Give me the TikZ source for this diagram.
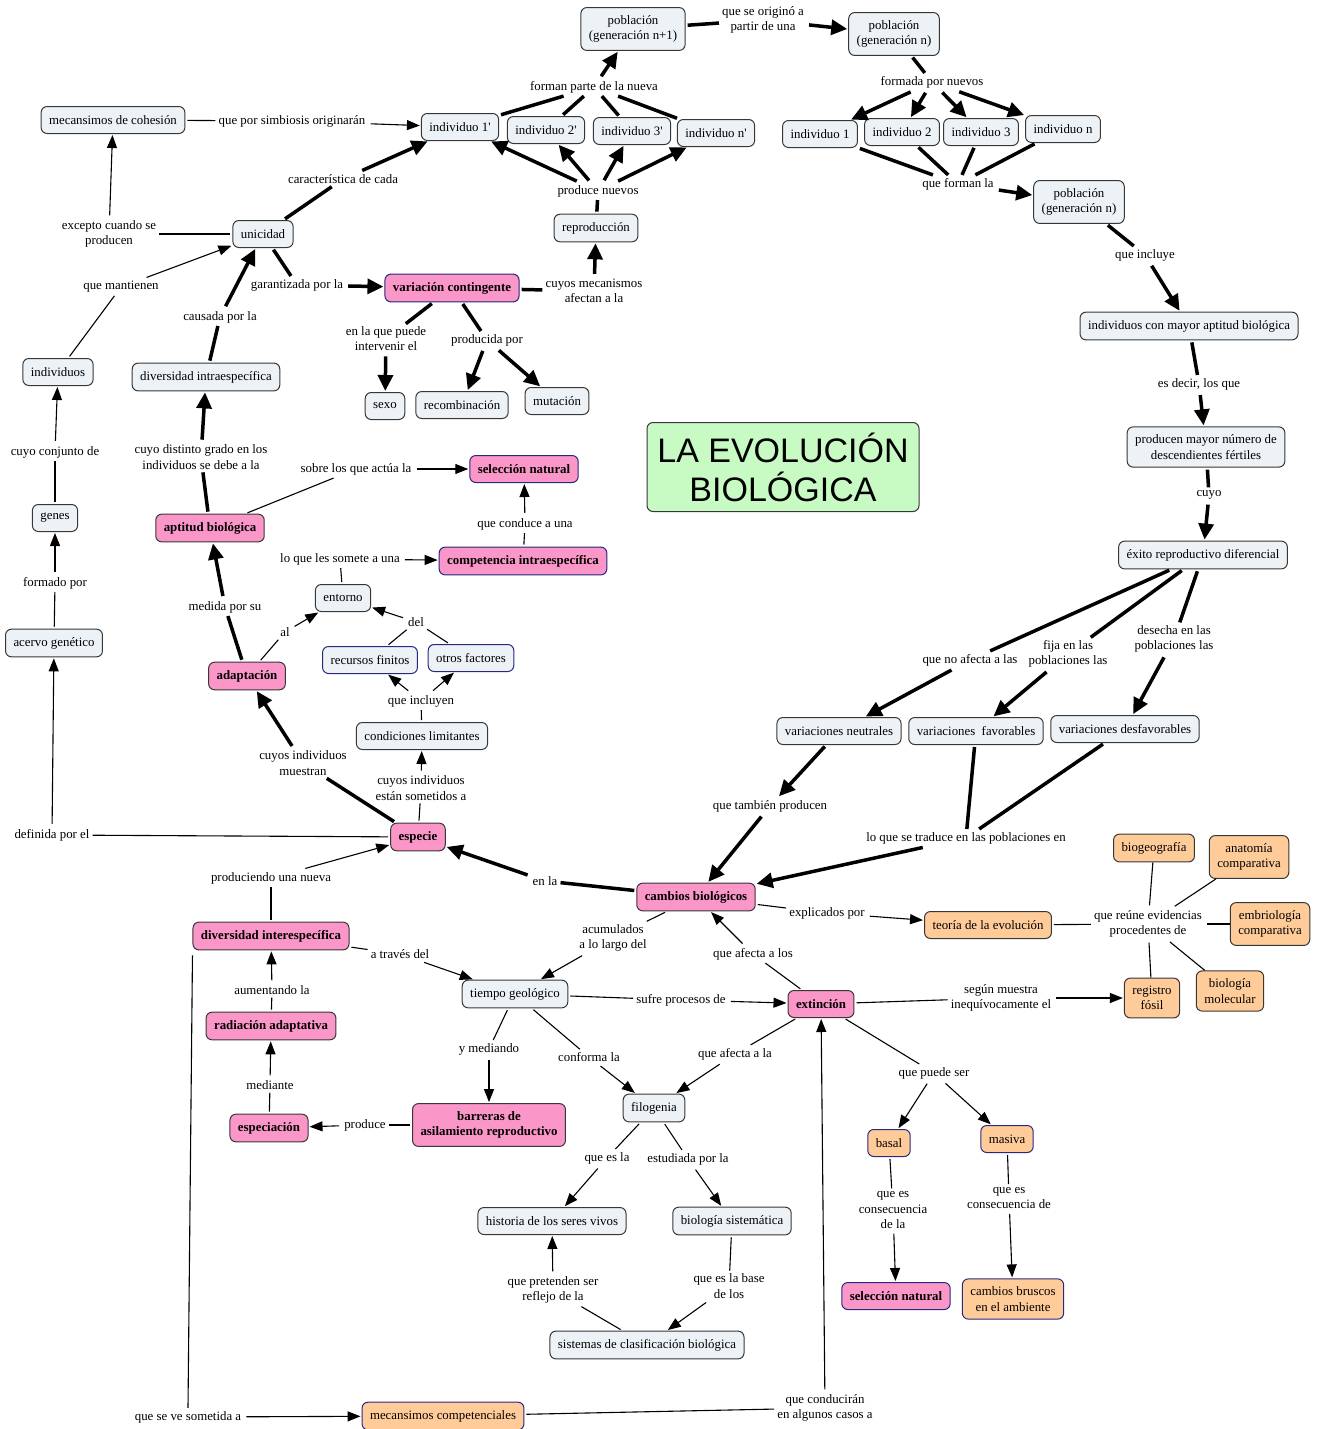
\documentclass[tikz,border=0pt]{standalone}
\usepackage{fontspec}
\setmainfont{Liberation Serif}
\newfontfamily\titlefont{Liberation Sans}
\usetikzlibrary{arrows.meta}
\definecolor{cfill}{RGB}{236,242,245}
\definecolor{cdraw}{RGB}{55,55,55}
\definecolor{pfill}{RGB}{250,150,200}
\definecolor{ofill}{RGB}{255,204,153}
\definecolor{gfill}{RGB}{200,250,195}
\definecolor{navyb}{RGB}{40,40,130}
\newcommand\cmfs{\fontsize{12.85}{15.2}\selectfont}
\newcommand\qs{\textquotesingle}
\tikzset{
 concept/.style={draw=cdraw, fill=cfill, rounded corners=6pt, line width=1pt, inner xsep=8pt, inner ysep=8pt, align=center, minimum height=27pt, font=\cmfs},
 pinkc/.style={concept, fill=pfill, font=\cmfs\bfseries},
 pinkn/.style={pinkc, draw=navyb},
 orangec/.style={concept, fill=ofill},
 orangen/.style={orangec, draw=navyb},
 bluec/.style={concept, draw=navyb},
 lp/.style={align=center, inner sep=3pt, font=\cmfs},
 thk/.style={line width=3.5pt, shorten <=2pt},
 thka/.style={thk, shorten >=1pt, -{Triangle[length=16pt,width=15pt]}},
 thn/.style={line width=1.1pt, shorten <=2pt},
 thna/.style={thn, shorten >=1pt, -{Triangle[length=13pt,width=10pt]}},
}
\begin{document}
\begin{tikzpicture}[x=1pt,y=-1pt]
\useasboundingbox (0,0) rectangle (1321,1429);
% ---------- concepts ----------
\node[concept] (pnA) at (633,29) {población\\(generación n+1)};
\node[concept] (pnB) at (894,34) {población\\(generación n)};
\node[concept] (ia) at (460,127) {individuo 1\qs};
\node[concept] (ib) at (546,130) {individuo 2\qs};
\node[concept] (ic) at (632,131) {individuo 3\qs};
\node[concept] (id) at (716,133) {individuo n\qs};
\node[concept] (ja) at (820,134) {individuo 1};
\node[concept] (jb) at (902,132) {individuo 2};
\node[concept] (jc) at (981,132) {individuo 3};
\node[concept] (jd) at (1063,129) {individuo n};
\node[concept] (pnC) at (1079,202) {población\\(generación n)};
\node[concept] (imay) at (1189,326) {individuos con mayor aptitud biológica};
\node[concept] (prod) at (1206,447) {producen mayor número de\\descendientes fértiles};
\node[concept] (exito) at (1203,555) {éxito reproductivo diferencial};
\node[concept] (vneu) at (839,731) {variaciones neutrales};
\node[concept] (vfav) at (976,731) {variaciones\ \ favorables};
\node[concept] (vdes) at (1125,729) {variaciones desfavorables};
\node[concept] (mcoh) at (113,120) {mecansimos de cohesión};
\node[concept] (unic) at (263,234) {unicidad};
\node[pinkn] (vcon) at (452,288) {variación contingente};
\node[concept] (repr) at (596,228) {reproducción};
\node[concept] (sexo) at (385,406) {sexo};
\node[concept] (recb) at (462,405) {recombinación};
\node[concept] (muta) at (557,401) {mutación};
\node[concept] (indv) at (58,372) {individuos};
\node[concept] (dintra) at (206,377) {diversidad intraespecífica};
\node[concept] (genes) at (55,518) {genes};
\node[pinkc] (apt) at (210,528) {aptitud biológica};
\node[pinkn] (snat) at (524,469) {selección natural};
\node[pinkn] (comp) at (523,561) {competencia intraespecífica};
\node[concept] (ent) at (343,598) {entorno};
\node[bluec] (recf) at (370,660) {recursos finitos};
\node[bluec] (otrf) at (471,658) {otros factores};
\node[concept] (cond) at (422,736) {condiciones limitantes};
\node[concept] (acerv) at (54,643) {acervo genético};
\node[pinkc] (adap) at (247,676) {adaptación};
\node[pinkc] (esp) at (418,837) {especie};
\node[pinkc] (camb) at (696,897) {cambios biológicos};
\node[orangec] (teor) at (988,925) {teoría de la evolución};
\node[orangec] (biog) at (1154,848) {biogeografía};
\node[orangec] (anat) at (1249,857) {anatomía\\comparativa};
\node[orangec] (embr) at (1270,924) {embriología\\comparativa};
\node[orangec] (biom) at (1230,991) {biología\\molecular};
\node[orangec] (regf) at (1152,998) {registro\\fósil};
\node[pinkc] (dinter) at (271,936) {diversidad interespecífica};
\node[pinkc] (radi) at (271,1026) {radiación adaptativa};
\node[pinkc] (espc) at (269,1128) {especiación};
\node[pinkc] (barr) at (489,1125) {barreras de\\asilamiento reproductivo};
\node[concept] (tiem) at (515,994) {tiempo geológico};
\node[pinkc] (ext) at (821,1004) {extinción};
\node[concept] (filo) at (654,1108) {filogenia};
\node[concept] (hist) at (552,1221) {historia de los seres vivos};
\node[concept] (bsis) at (732,1221) {biología sistemática};
\node[concept] (sist) at (647,1345) {sistemas de clasificación biológica};
\node[orangen] (basal) at (889,1143) {basal};
\node[orangen] (masi) at (1007,1139) {masiva};
\node[pinkn] (snatb) at (896,1296) {selección natural};
\node[orangen] (brus) at (1013,1299) {cambios bruscos\\en el ambiente};
\node[orangen] (mcomp) at (443,1416) {mecansimos competenciales};
\node[draw=cdraw, fill=gfill, rounded corners=6pt, line width=1pt, align=center,
      minimum width=272pt, minimum height=89pt, inner sep=4pt,
      font=\titlefont\fontsize{34}{39}\selectfont] (title) at (783,467) {LA EVOLUCIÓN\\BIOLÓGICA};
% ---------- linking phrases ----------
\node[lp] (lOrig) at (763,20) {que se originó a\\partir de una};
\node[lp] (lForman) at (594,87) {forman parte de la nueva};
\node[lp] (lFormada) at (932,82) {formada por nuevos};
\node[lp] (lSimb) at (292,121) {que por simbiosis originarán};
\node[lp] (lProdN) at (598,191) {produce nuevos};
\node[lp] (lFormanLa) at (958,184) {que forman la};
\node[lp] (lCarac) at (343,179) {característica de cada};
\node[lp] (lExcep) at (109,234) {excepto cuando se\\producen};
\node[lp] (lIncl) at (1145,255) {que incluye};
\node[lp] (lMant) at (121,287) {que mantienen};
\node[lp] (lGarant) at (297,285) {garantizada por la};
\node[lp] (lMecan) at (594,291) {cuyos mecanismos\\afectan a la};
\node[lp] (lCaus) at (220,317) {causada por la};
\node[lp] (lInterv) at (386,339) {en la que puede\\intervenir el};
\node[lp] (lProdPor) at (487,340) {producida por};
\node[lp] (lDecir) at (1199,384) {es decir, los que};
\node[lp] (lConj) at (55,452) {cuyo conjunto de};
\node[lp] (lGrado) at (201,457) {cuyo distinto grado en los\\individuos se debe a la};
\node[lp] (lSobre) at (356,469) {sobre los que actúa la};
\node[lp] (lCuyo) at (1209,495) {cuyo};
\node[lp] (lConduce) at (525,524) {que conduce a una};
\node[lp] (lSomete) at (340,559) {lo que les somete a una};
\node[lp] (lFormado) at (55,583) {formado por};
\node[lp] (lMedida) at (225,607) {medida por su};
\node[lp] (lAl) at (285,632) {al};
\node[lp] (lDel) at (416,622) {del};
\node[lp] (lNoAf) at (970,660) {que no afecta a las};
\node[lp] (lFija) at (1068,654) {fija en las\\poblaciones las};
\node[lp] (lDesecha) at (1174,639) {desecha en las\\poblaciones las};
\node[lp] (lIncluyen) at (421,701) {que incluyen};
\node[lp] (lMuestran) at (303,763) {cuyos individuos\\muestran};
\node[lp] (lSometidos) at (421,788) {cuyos individuos\\están sometidos a};
\node[lp] (lTambien) at (770,806) {que también producen};
\node[lp] (lDefinida) at (52,835) {definida por el};
\node[lp] (lTraduce) at (966,838) {lo que se traduce en las poblaciones en};
\node[lp] (lProduciendo) at (271,878) {produciendo una nueva};
\node[lp] (lEnLa) at (545,881) {en la};
\node[lp] (lExplic) at (827,913) {explicados por};
\node[lp] (lReune) at (1148,924) {que reúne evidencias\\procedentes de};
\node[lp] (lAcum) at (613,938) {acumulados\\a lo largo del};
\node[lp] (lAfectaLos) at (753,954) {que afecta a los};
\node[lp] (lTraves) at (400,954) {a través del};
\node[lp] (lAument) at (272,990) {aumentando la};
\node[lp] (lSufre) at (681,1000) {sufre procesos de};
\node[lp] (lSegun) at (1001,998) {según muestra\\inequívocamente el};
\node[lp] (lYMed) at (489,1049) {y mediando};
\node[lp] (lConforma) at (589,1057) {conforma la};
\node[lp] (lAfectaLa) at (735,1054) {que afecta a la};
\node[lp] (lPuede) at (934,1073) {que puede ser};
\node[lp] (lMediante) at (270,1085) {mediante};
\node[lp] (lProduce) at (365,1125) {produce};
\node[lp] (lEsLa) at (607,1158) {que es la};
\node[lp] (lEstud) at (688,1159) {estudiada por la};
\node[lp] (lConsLa) at (893,1210) {que es\\consecuencia\\de la};
\node[lp] (lConsDe) at (1009,1198) {que es\\consecuencia de};
\node[lp] (lBase) at (729,1286) {que es la base\\de los};
\node[lp] (lRefl) at (553,1290) {que pretenden ser\\reflejo de la};
\node[lp] (lConduciran) at (825,1408) {que conducirán\\en algunos casos a};
\node[lp] (lSometida) at (188,1417) {que se ve sometida a};
% ---------- thick connectors ----------
\draw[thk] (pnA) -- (lOrig); \draw[thka] (lOrig) -- (pnB);
\foreach \n in {ia,ib,ic,id} \draw[thk] (\n) -- (lForman);
\draw[thka] (lForman) -- (pnA);
\draw[thk] (pnB) -- (lFormada);
\foreach \n in {ja,jb,jc,jd} \draw[thka] (lFormada) -- (\n);
\foreach \n in {ja,jb,jc,jd} \draw[thk] (\n) -- (lFormanLa);
\draw[thka] (lFormanLa) -- (pnC);
\draw[thk] (repr) -- (lProdN);
\foreach \n in {ia,ib,ic,id} \draw[thka] (lProdN) -- (\n);
\draw[thk] (unic) -- (lCarac); \draw[thka] (lCarac) -- (ia);
\draw[thk] (unic) -- (lGarant); \draw[thka] (lGarant) -- (vcon);
\draw[thk] (vcon) -- (lMecan); \draw[thka] (lMecan) -- (repr);
\draw[thk] (dintra) -- (lCaus); \draw[thka] (lCaus) -- (unic);
\draw[thk] (vcon) -- (lInterv); \draw[thka] (lInterv) -- (sexo);
\draw[thk] (vcon) -- (lProdPor); \draw[thka] (lProdPor) -- (recb); \draw[thka] (lProdPor) -- (muta);
\draw[thk] (apt) -- (lGrado); \draw[thka] (lGrado) -- (dintra);
\draw[thk] (adap) -- (lMedida); \draw[thka] (lMedida) -- (apt);
\draw[thk] (esp) -- (lMuestran); \draw[thka] (lMuestran) -- (adap);
\draw[thk] (camb) -- (lEnLa); \draw[thka] (lEnLa) -- (esp);
\draw[thk] (pnC) -- (lIncl); \draw[thka] (lIncl) -- (imay);
\draw[thk] (imay) -- (lDecir); \draw[thka] (lDecir) -- (prod);
\draw[thk] (prod) -- (lCuyo); \draw[thka] (lCuyo) -- (exito);
\draw[thk] (exito) -- (lNoAf); \draw[thka] (lNoAf) -- (vneu);
\draw[thk] (exito) -- (lFija); \draw[thka] (lFija) -- (vfav);
\draw[thk] (exito) -- (lDesecha); \draw[thka] (lDesecha) -- (vdes);
\draw[thka] (vneu) -- (lTambien); \draw[thka] (lTambien) -- (camb);
\draw[thk] (vfav) -- (lTraduce); \draw[thk] (vdes) -- (lTraduce);
\draw[thka] (lTraduce) -- (camb);
% ---------- thin connectors ----------
\draw[thn] (unic) -- (lExcep); \draw[thna] (lExcep) -- (mcoh);
\draw[thn] (mcoh) -- (lSimb); \draw[thna] (lSimb) -- (ia);
\draw[thn] (indv) -- (lMant); \draw[thna] (lMant) -- (unic);
\draw[thn] (genes) -- (lConj); \draw[thna] (lConj) -- (indv);
\draw[thn] (acerv) -- (lFormado); \draw[thna] (lFormado) -- (genes);
\draw[thn] (esp) -- (lDefinida); \draw[thna] (lDefinida) -- (acerv);
\draw[thn] (apt) -- (lSobre); \draw[thna] (lSobre) -- (snat);
\draw[thn] (comp) -- (lConduce); \draw[thna] (lConduce) -- (snat);
\draw[thn] (ent) -- (lSomete); \draw[thna] (lSomete) -- (comp);
\draw[thn] (adap) -- (lAl); \draw[thna] (lAl) -- (ent);
\draw[thn] (recf) -- (lDel); \draw[thn] (otrf) -- (lDel); \draw[thna] (lDel) -- (ent);
\draw[thn] (cond) -- (lIncluyen); \draw[thna] (lIncluyen) -- (recf); \draw[thna] (lIncluyen) -- (otrf);
\draw[thn] (esp) -- (lSometidos); \draw[thna] (lSometidos) -- (cond);
\draw[thn] (dinter) -- (lProduciendo); \draw[thna] (lProduciendo) -- (esp);
\draw[thn] (camb) -- (lExplic); \draw[thna] (lExplic) -- (teor);
\draw[thn] (teor) -- (lReune);
\foreach \n in {biog,anat,embr,biom,regf} \draw[thn] (lReune) -- (\n);
\draw[thn] (camb) -- (lAcum); \draw[thna] (lAcum) -- (tiem);
\draw[thn] (ext) -- (lAfectaLos); \draw[thna] (lAfectaLos) -- (camb);
\draw[thn] (dinter) -- (lTraves); \draw[thna] (lTraves) -- (tiem);
\draw[thn] (radi) -- (lAument); \draw[thna] (lAument) -- (dinter);
\draw[thn] (tiem) -- (lSufre); \draw[thna] (lSufre) -- (ext);
\draw[thn] (ext) -- (lSegun); \draw[thna] (lSegun) -- (regf);
\draw[thn] (tiem) -- (lYMed); \draw[thna] (lYMed) -- (barr);
\draw[thn] (tiem) -- (lConforma); \draw[thna] (lConforma) -- (filo);
\draw[thn] (ext) -- (lAfectaLa); \draw[thna] (lAfectaLa) -- (filo);
\draw[thn] (ext) -- (lPuede); \draw[thna] (lPuede) -- (basal); \draw[thna] (lPuede) -- (masi);
\draw[thn] (espc) -- (lMediante); \draw[thna] (lMediante) -- (radi);
\draw[thn] (barr) -- (lProduce); \draw[thna] (lProduce) -- (espc);
\draw[thn] (filo) -- (lEsLa); \draw[thna] (lEsLa) -- (hist);
\draw[thn] (filo) -- (lEstud); \draw[thna] (lEstud) -- (bsis);
\draw[thn] (basal) -- (lConsLa); \draw[thna] (lConsLa) -- (snatb);
\draw[thn] (masi) -- (lConsDe); \draw[thna] (lConsDe) -- (brus);
\draw[thn] (bsis) -- (lBase); \draw[thna] (lBase) -- (sist);
\draw[thn] (sist) -- (lRefl); \draw[thna] (lRefl) -- (hist);
\draw[thn] (mcomp) -- (lConduciran); \draw[thna] (lConduciran) -- (ext);
\draw[thn] ([yshift=-3pt]dinter.south west) -- (lSometida.north); \draw[thna] (lSometida) -- (mcomp);
\end{tikzpicture}
\end{document}
